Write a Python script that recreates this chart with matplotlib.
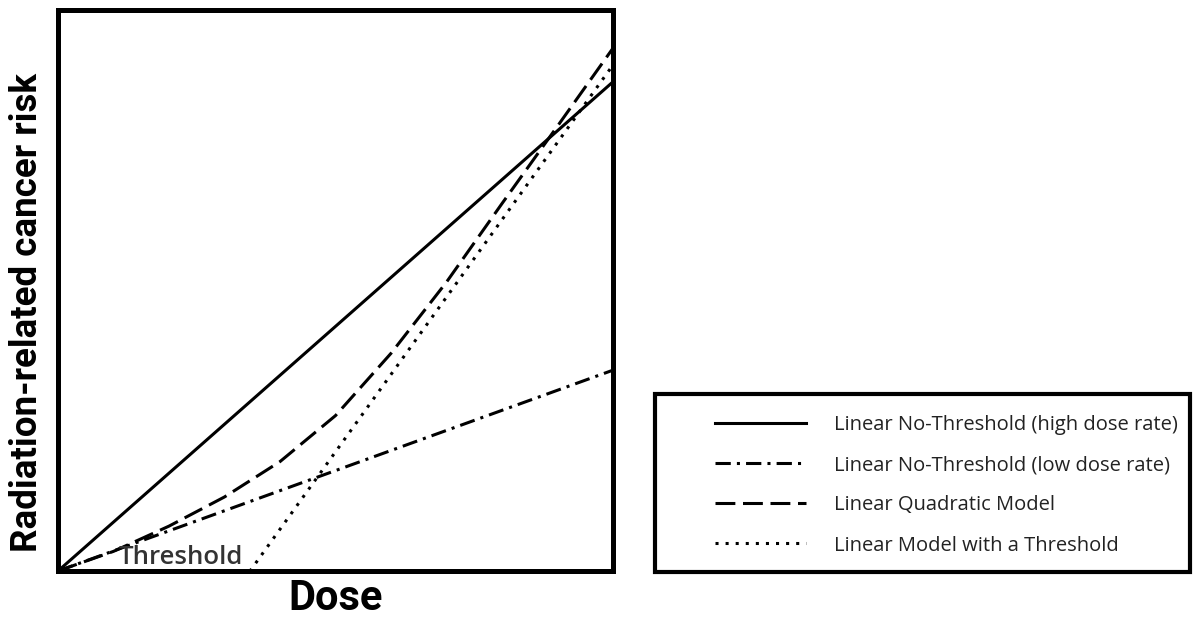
import matplotlib.pyplot as plt
from matplotlib.patches import Rectangle

# values (dose and risk on a 0..1 scale)
dose = [0, 1.0]
lnt_high = [0, 0.872]
lnt_low = [0, 0.358]

lq_dose = [0, 0.1, 0.2, 0.3, 0.4, 0.5, 0.6, 0.7, 0.8, 0.9, 1.0]
lq_risk = [0, 0.035, 0.08, 0.132, 0.195, 0.277, 0.388, 0.515, 0.655, 0.793, 0.932]

thr_dose = [0, 0.346, 1.0]
thr_risk = [0, 0, 0.902]

labels = ['Linear No-Threshold (high dose rate)',
          'Linear No-Threshold (low dose rate)',
          'Linear Quadratic Model',
          'Linear Model with a Threshold']

W, H = 1193, 620
fig = plt.figure(figsize=(W / 100, H / 100), dpi=100)
ax = fig.add_axes([58 / W, (H - 571) / H, 555 / W, 561 / H])

lw = 2.2
l1, = ax.plot(dose, lnt_high, color='black', lw=lw, ls='-')
l2, = ax.plot(dose, lnt_low, color='black', lw=lw, ls=(0, (5, 2, 1, 2)))
l3, = ax.plot(lq_dose, lq_risk, color='black', lw=lw, ls=(0, (6.5, 2.5)))
l4, = ax.plot(thr_dose, thr_risk, color='black', lw=lw, ls=(0, (1, 2.3)))

ax.text(0.11, 0.012, 'Threshold', fontsize=18.5, fontweight='semibold',
        color='#333333', family=['Open Sans', 'DejaVu Sans'], va='baseline')

ax.set_xlim(0, 1)
ax.set_ylim(0, 1)
ax.set_xticks([])
ax.set_yticks([])
for sp in ax.spines.values():
    sp.set_linewidth(3.6)

bold_font = ['Roboto', 'DejaVu Sans']
ax.set_xlabel('Dose', fontsize=30, fontweight='bold', family=bold_font, labelpad=5)
fig.text(27 / W, (H - 312) / H, 'Radiation-related cancer risk', rotation=90,
         ha='center', va='center', fontsize=26.5, fontweight='bold', family=bold_font)

# legend box
fig.patches.append(Rectangle((655 / W, (H - 572) / H), 535 / W, 178 / H,
                             transform=fig.transFigure, fill=False,
                             edgecolor='black', lw=3))
leg = fig.legend([l1, l2, l3, l4], labels, loc='upper left',
                 bbox_to_anchor=(697 / W, (H - 397) / H),
                 frameon=False, handlelength=4.5, handletextpad=1.4,
                 labelspacing=1.0, prop={'family': 'Open Sans', 'size': 14.5})
for t in leg.get_texts():
    t.set_color('#222222')

fig.savefig('out.png', dpi=100)
